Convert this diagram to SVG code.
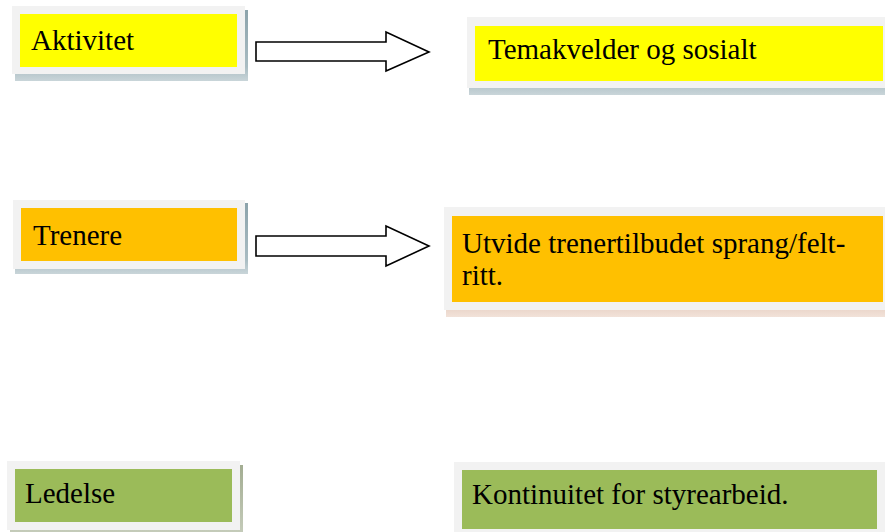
<svg xmlns="http://www.w3.org/2000/svg" width="885" height="532" viewBox="0 0 885 532">
<defs>
<linearGradient id="shB" x1="0" y1="0" x2="0" y2="1">
<stop offset="0" stop-color="#8CA3AB"/>
<stop offset="0.8" stop-color="#A9BCC2"/>
<stop offset="1" stop-color="#C9D5D9"/>
</linearGradient>
<linearGradient id="shP" x1="0" y1="0" x2="0" y2="1">
<stop offset="0" stop-color="#C9A189"/>
<stop offset="0.8" stop-color="#DFC3B3"/>
<stop offset="1" stop-color="#F2E2D9"/>
</linearGradient>
<linearGradient id="shG" x1="0" y1="0" x2="0" y2="1">
<stop offset="0" stop-color="#A3AD92"/>
<stop offset="1" stop-color="#C4CBB9"/>
</linearGradient>
</defs>
<style>
.frame{fill:#F2F2F2}
.yel{fill:#FFFF00}
.org{fill:#FFC000}
.grn{fill:#9BBB59}
.t{font-family:"Liberation Serif","Times New Roman",serif;font-size:29px;fill:#000}
.arrow{fill:#FFFFFF;stroke:#000;stroke-width:1.6;stroke-linejoin:miter}
</style>
<g id="n-aktivitet">
<rect x="15" y="10" width="233" height="71" fill="url(#shB)"/>
<rect class="frame" x="12" y="6" width="233" height="68"/>
<rect class="yel" x="20" y="14" width="217" height="53"/>
<text class="t" x="31" y="50">Aktivitet</text>
</g>
<g id="n-temakvelder">
<rect x="469" y="21" width="416" height="74" fill="url(#shB)"/>
<rect class="frame" x="467" y="17" width="418" height="71"/>
<rect class="yel" x="475" y="26" width="408" height="55"/>
<text class="t" x="488" y="59">Temakvelder og sosialt</text>
</g>
<g id="n-trenere">
<rect x="15" y="203" width="233" height="71" fill="url(#shB)"/>
<rect class="frame" x="13" y="200" width="232" height="69"/>
<rect class="org" x="21" y="208" width="216" height="53"/>
<text class="t" x="33" y="245">Trenere</text>
</g>
<g id="n-utvide">
<rect x="446" y="211" width="439" height="106" fill="url(#shP)"/>
<rect class="frame" x="444" y="207" width="441" height="103"/>
<rect class="org" x="452" y="216" width="431" height="86"/>
<text class="t" x="462" y="253">Utvide trenertilbudet sprang/felt-</text>
<text class="t" x="462" y="285">ritt.</text>
</g>
<g id="n-ledelse">
<rect x="10" y="465" width="233" height="67" fill="url(#shG)"/>
<rect class="frame" x="7" y="461" width="233" height="69"/>
<rect class="grn" x="15" y="469" width="217" height="53"/>
<text class="t" x="25" y="503">Ledelse</text>
</g>
<g id="n-kontinuitet">
<rect class="frame" x="454" y="462" width="431" height="70"/>
<rect class="grn" x="462" y="470" width="415" height="59"/>
<text class="t" x="472" y="504">Kontinuitet for styrearbeid.</text>
</g>
<g id="connectors">
<path class="arrow" d="M256,42 L386,42 L386,32 L429,52 L386,71 L386,61 L256,61 Z"/>
<path class="arrow" d="M256,236 L386,236 L386,226 L429,246 L386,266 L386,256 L256,256 Z"/>
</g>
</svg>
